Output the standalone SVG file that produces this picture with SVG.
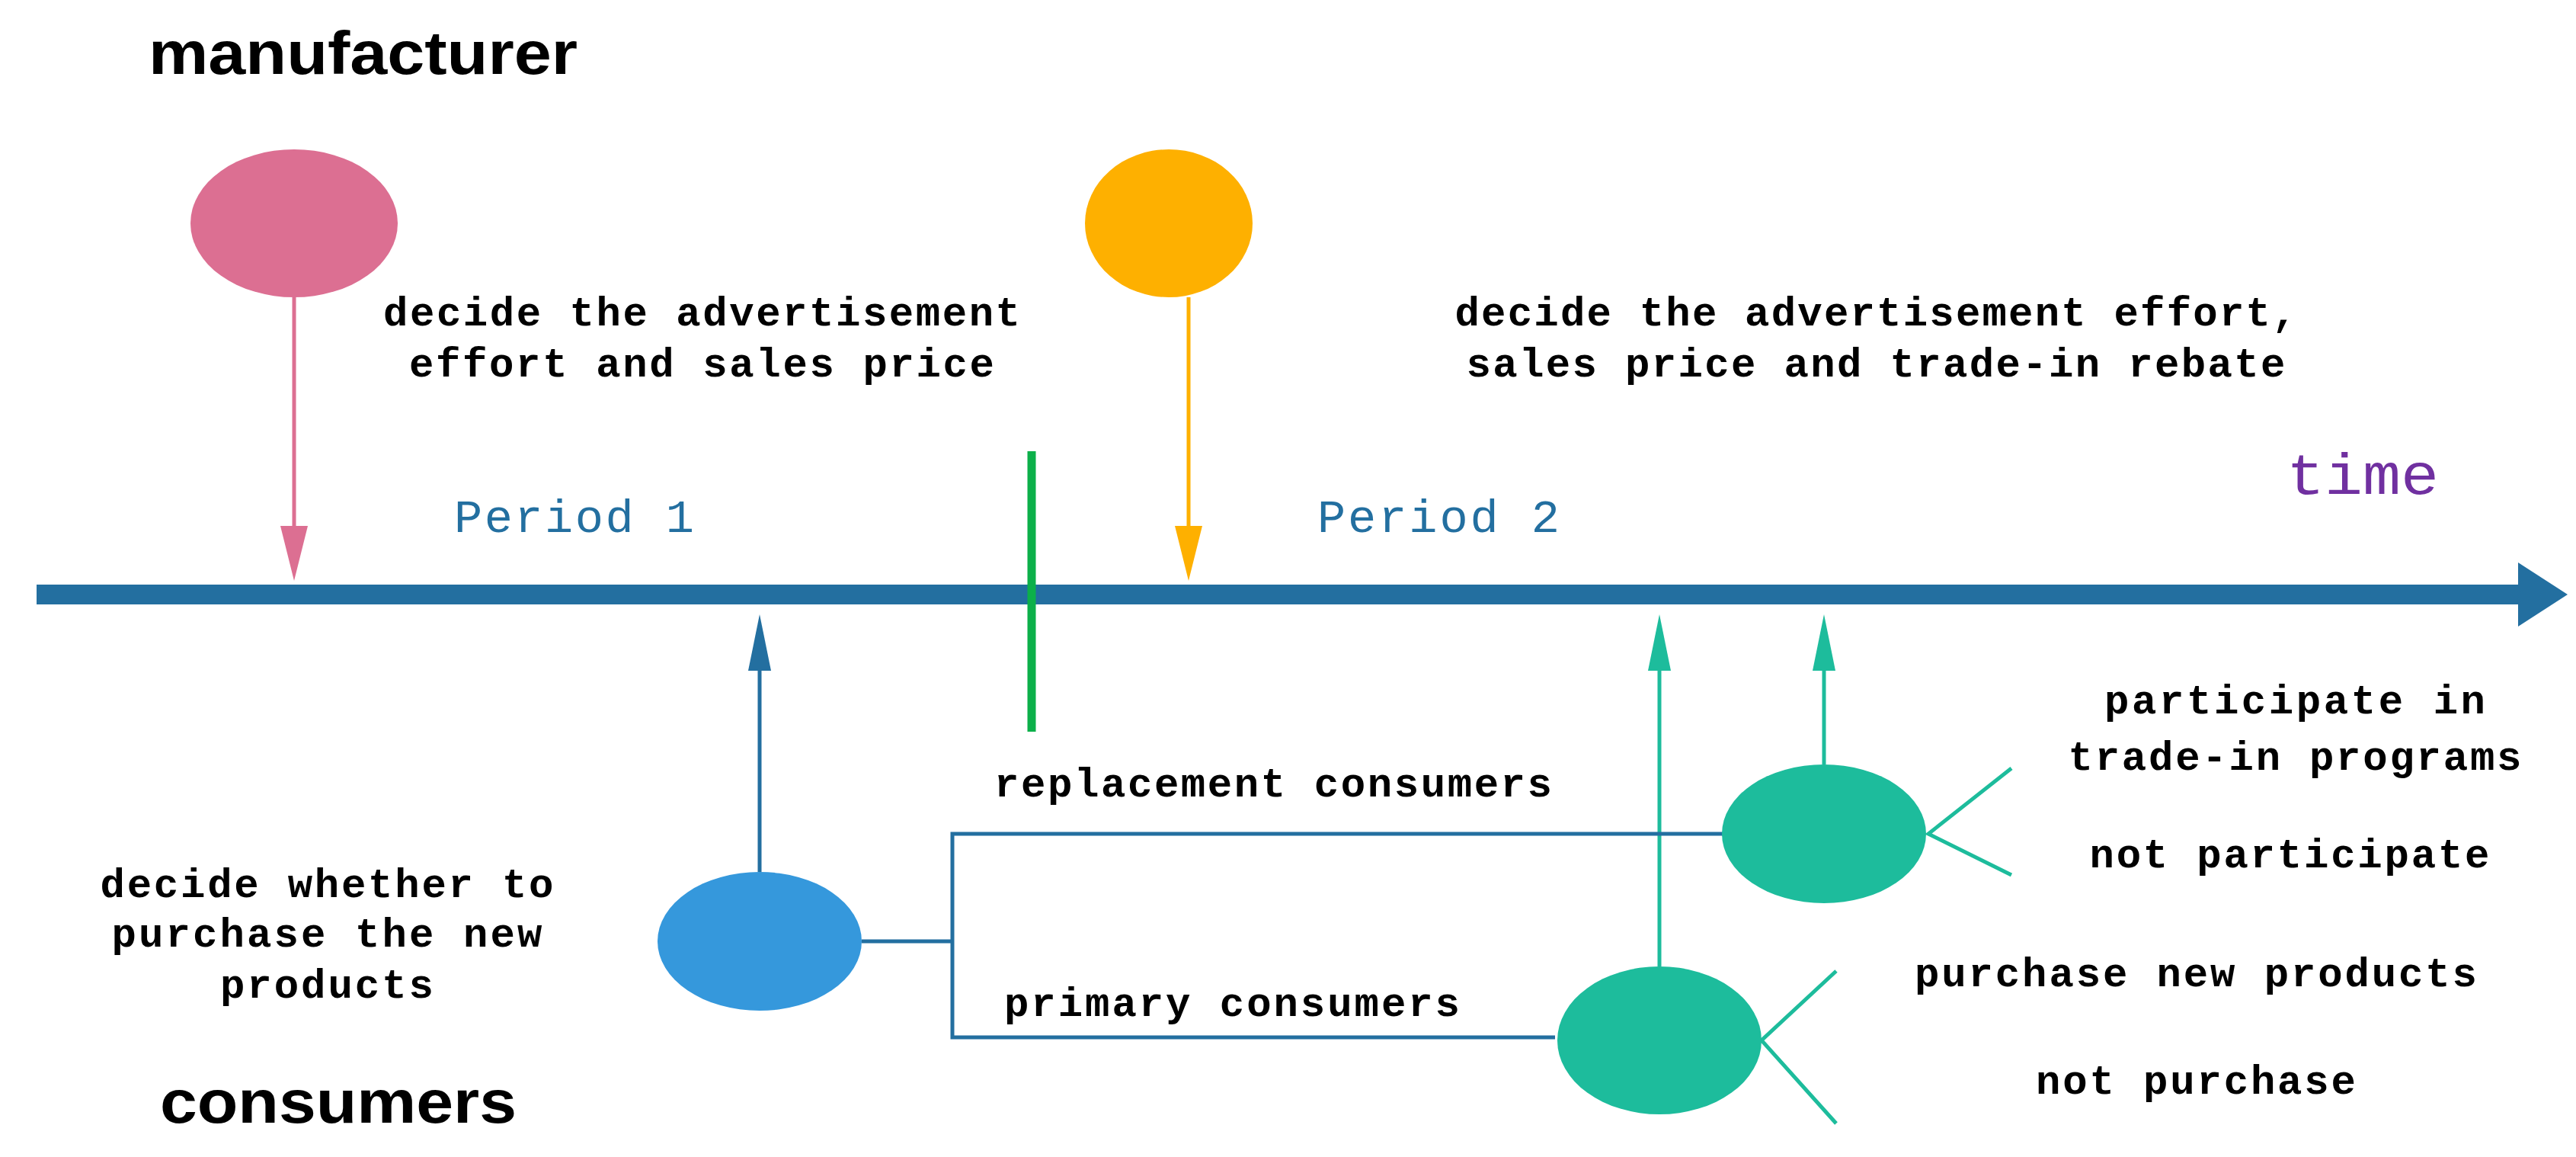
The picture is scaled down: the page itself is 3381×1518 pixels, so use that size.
<svg xmlns="http://www.w3.org/2000/svg" width="3381" height="1518" viewBox="0 0 3381 1518">
<style>
.h{font-family:"Liberation Sans",Arial,sans-serif;font-weight:bold;font-size:80px;fill:#000}
.t{font-family:"Liberation Mono","Courier New",monospace;font-weight:bold;font-size:54px;fill:#000}
.p{font-family:"Liberation Mono","Courier New",monospace;font-size:62px;fill:#236FA0}
.ln{fill:none;stroke-width:5}
</style>
<rect width="3381" height="1518" fill="#fff"/>
<g id="connectors">
<line x1="386" y1="390" x2="386" y2="700" stroke="#DC6F92" stroke-width="5"/>
<polygon points="368,690 404,690 386,762" fill="#DC6F92"/>
<line x1="1560" y1="390" x2="1560" y2="700" stroke="#FEB000" stroke-width="5"/>
<polygon points="1542,690 1578,690 1560,762" fill="#FEB000"/>
<line x1="48" y1="780" x2="3320" y2="780" stroke="#236FA0" stroke-width="26"/>
<polygon points="3305,738 3370,780 3305,822" fill="#236FA0"/>
<line x1="1354" y1="592" x2="1354" y2="960" stroke="#0CB04A" stroke-width="11"/>
<line x1="997" y1="1144" x2="997" y2="870" stroke="#236FA0" stroke-width="5"/>
<polygon points="982,880 1012,880 997,806" fill="#236FA0"/>
<line x1="2394" y1="1003" x2="2394" y2="870" stroke="#1DBC9C" stroke-width="5"/>
<polygon points="2379,880 2409,880 2394,806" fill="#1DBC9C"/>
<line x1="2178" y1="1268" x2="2178" y2="870" stroke="#1DBC9C" stroke-width="5"/>
<polygon points="2163,880 2193,880 2178,806" fill="#1DBC9C"/>
<polyline class="ln" stroke="#236FA0" points="1131,1235 1250,1235"/>
<polyline class="ln" stroke="#236FA0" points="2264,1094 1250,1094 1250,1361 2041,1361"/>
<polyline class="ln" stroke="#1DBC9C" points="2640,1008 2531,1094 2640,1148"/>
<polyline class="ln" stroke="#1DBC9C" points="2410,1274 2312,1365 2410,1474"/>
</g>
<g id="manufacturer"><text class="h" x="195" y="97" textLength="563" lengthAdjust="spacingAndGlyphs">manufacturer</text></g>
<g id="consumers"><text class="h" x="210" y="1473" textLength="468" lengthAdjust="spacingAndGlyphs">consumers</text></g>
<g id="node-m1"><ellipse cx="386" cy="293" rx="136" ry="97" fill="#DC6F92"/></g>
<g id="node-m2"><ellipse cx="1534" cy="293" rx="110" ry="97" fill="#FEB000"/></g>
<g id="node-c"><ellipse cx="997" cy="1235" rx="134" ry="91" fill="#3598DC"/></g>
<g id="node-r"><ellipse cx="2394" cy="1094" rx="134" ry="91" fill="#1DBC9C"/></g>
<g id="node-pr"><ellipse cx="2178" cy="1365" rx="134" ry="97" fill="#1DBC9C"/></g>
<g id="labels">
<text class="t" x="921" y="427" text-anchor="middle" textLength="836">decide the advertisement</text>
<text class="t" x="921" y="494" text-anchor="middle" textLength="768">effort and sales price</text>
<text class="t" x="2462" y="427" text-anchor="middle" textLength="1105">decide the advertisement effort,</text>
<text class="t" x="2462" y="494" text-anchor="middle" textLength="1075">sales price and trade-in rebate</text>
<text class="p" x="596" y="698" textLength="315">Period 1</text>
<text class="p" x="1729" y="698" textLength="318">Period 2</text>
<text x="3001" y="648" font-family="Liberation Mono,monospace" font-size="76" fill="#7030A0" textLength="200" lengthAdjust="spacingAndGlyphs">time</text>
<text class="t" x="1305" y="1045" textLength="732">replacement consumers</text>
<text class="t" x="1318" y="1333" textLength="598">primary consumers</text>
<text class="t" x="429" y="1177" text-anchor="middle" textLength="595">decide whether to</text>
<text class="t" x="429" y="1242" text-anchor="middle" textLength="565">purchase the new</text>
<text class="t" x="429" y="1309" text-anchor="middle" textLength="280">products</text>
<text class="t" x="3012" y="936" text-anchor="middle" textLength="500">participate in</text>
<text class="t" x="3012" y="1010" text-anchor="middle" textLength="595">trade-in programs</text>
<text class="t" x="3005" y="1138" text-anchor="middle" textLength="525">not participate</text>
<text class="t" x="2882" y="1294" text-anchor="middle" textLength="738">purchase new products</text>
<text class="t" x="2882" y="1435" text-anchor="middle" textLength="420">not purchase</text>
</g>
</svg>
